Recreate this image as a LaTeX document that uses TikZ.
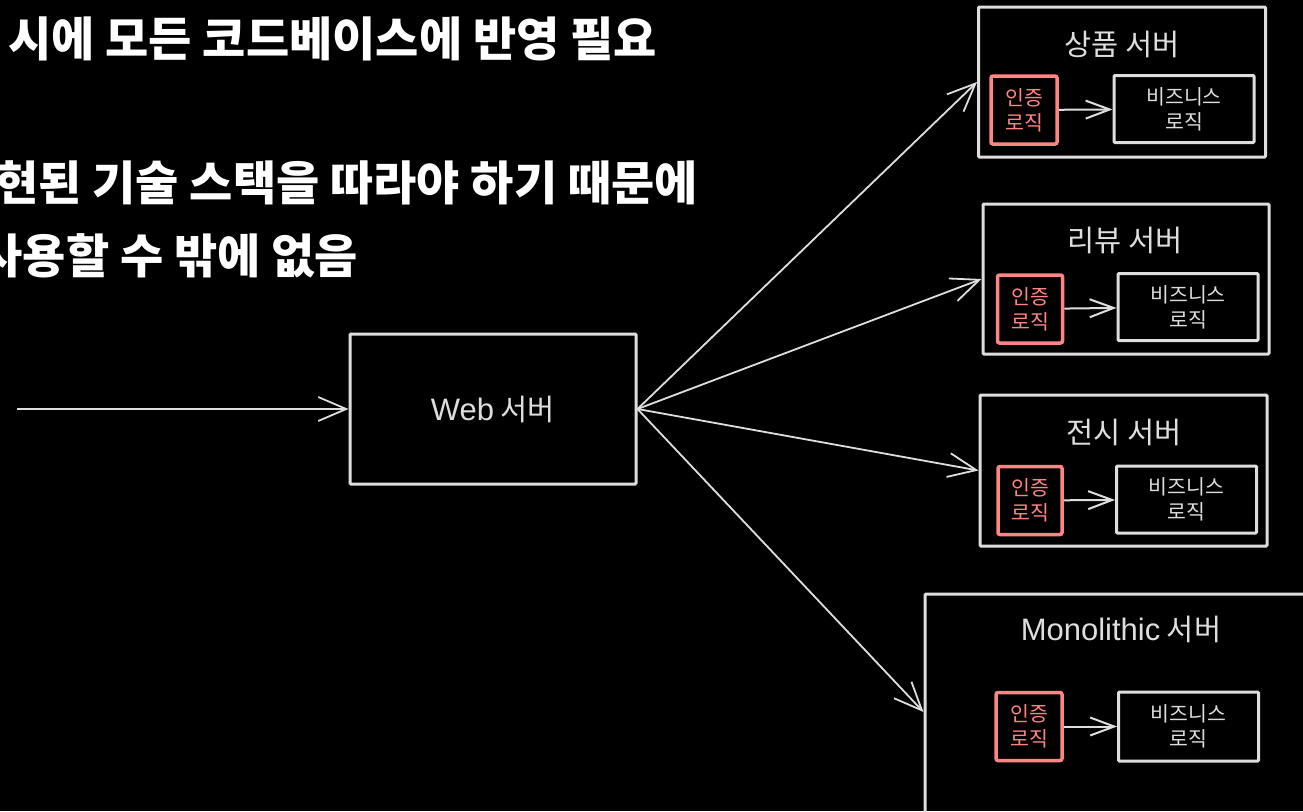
\documentclass[tikz,border=0pt]{standalone}
\usepackage{fontspec}
\newfontfamily\kr{Noto Sans CJK KR}
\newfontfamily\lat{Liberation Sans}
\usetikzlibrary{arrows.meta}
\definecolor{linegray}{HTML}{DEDEDE}
\definecolor{authred}{HTML}{FF8585}

\begin{document}
\begin{tikzpicture}[x=1pt, y=-1pt,
  server/.style={draw=linegray, line width=3pt, rounded corners=1pt, minimum width=287pt, minimum height=150pt},
  authbox/.style={draw=authred, line width=3.5pt, rounded corners=2pt, minimum width=66pt, minimum height=68pt,
    inner sep=0pt, align=center, text=authred, font=\kr\fontsize{20.5}{25}\selectfont},
  bizbox/.style={draw=linegray, line width=3pt, rounded corners=1pt, minimum width=140pt, minimum height=67pt,
    inner sep=0pt, align=center, text=linegray, font=\kr\fontsize{20.5}{25}\selectfont},
  title/.style={text=linegray, inner sep=0pt, font=\kr\fontsize{29.5}{32}\selectfont},
  note/.style={text=white, anchor=east, inner sep=0pt, font=\kr\bfseries\fontsize{47}{52}\selectfont},
  flow/.style={draw=linegray, line width=1.8pt, -{Straight Barb[length=28pt, width=24pt]}},
  call/.style={draw=linegray, line width=2pt, -{Straight Barb[length=24pt, width=18pt]}}]

  % Background and page size
  \fill[black] (0,0) rectangle (1303,811);
  \clip (0,0) rectangle (1303,811);

  % Notes on the left
  \node[note] (note1) at (657,39) {시에 모든 코드베이스에 반영 필요};
  \node[note] (note2) at (698,183) {현된 기술 스택을 따라야 하기 때문에};
  \node[note] (note3) at (358,256) {사용할 수 밖에 없음};

  % Define the nodes
  \coordinate (client) at (17,409);
  \node[server, minimum width=286pt] (web) at (493,409) {};
  \node[title] at (web.center) {{\lat\fontsize{31}{32}\selectfont Web} 서버};

  \node[server] (product) at (1122,82) {};
  \node[title] (producttitle) at (1122,44) {상품 서버};
  \node[authbox] (productauth) at (1024,110) {인증\\로직};
  \node[bizbox] (productbiz) at (1184,109) {비즈니스\\로직};

  \node[server, minimum width=286pt] (review) at (1126,279) {};
  \node[title] (reviewtitle) at (1125,240) {리뷰 서버};
  \node[authbox, minimum width=65pt] (reviewauth) at (1030,309) {인증\\로직};
  \node[bizbox] (reviewbiz) at (1188,307) {비즈니스\\로직};

  \node[server, minimum height=151pt] (display) at (1123.5,470.5) {};
  \node[title] (displaytitle) at (1124,432) {전시 서버};
  \node[authbox, minimum width=64pt] (displayauth) at (1030,500.5) {인증\\로직};
  \node[bizbox] (displaybiz) at (1186.5,499.5) {비즈니스\\로직};

  \node[server, minimum width=392pt, minimum height=236pt] (mono) at (1121,712) {};
  \node[title] (monotitle) at (1121,629) {{\lat\fontsize{31}{32}\selectfont Monolithic} 서버};
  \node[authbox] (monoauth) at (1029,726.5) {인증\\로직};
  \node[bizbox, minimum height=69pt] (monobiz) at (1188.5,726.5) {비즈니스\\로직};

  % Draw arrows between nodes
  \draw[flow] (client) -- (web.west);
  \draw[flow] (web.east) -- (product.west);
  \draw[flow] (web.east) -- (review.west);
  \draw[flow] (web.east) -- (display.west);
  \draw[flow] (web.east) -- (mono.west);

  \draw[call] (productauth) -- (productbiz);
  \draw[call] (reviewauth) -- (reviewbiz);
  \draw[call] (displayauth) -- (displaybiz);
  \draw[call] (monoauth) -- (monobiz);
\end{tikzpicture}
\end{document}
